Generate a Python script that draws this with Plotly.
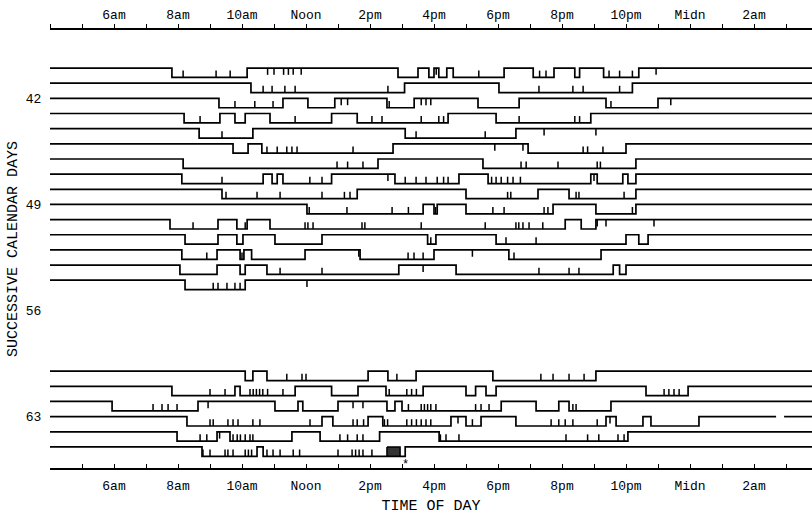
import plotly.graph_objects as go

# ---------------- data (hours of day; >24 = after midnight) ----------------
DAYS = [40, 41, 42, 43, 44, 45, 46, 47, 48, 49, 50, 51, 52, 53, 54, 60, 61, 62, 63, 64, 65]

LOWS_40 = [[7.81, 10.16], [14.875, 15.5], [15.84, 16.0], [16.15, 16.4], [16.6, 18.19],
           [19.1, 19.75], [20.4, 20.55], [21.3, 22.4]]
MARKS_40 = [8.16, 9.19, 9.63, 10.8, 11.0, 11.3, 11.45, 11.6, 11.85, 16.07, 17.4, 19.3, 19.5,
            21.47, 21.8, 22.2, 22.94]
LOWS_41 = [[10.28, 15.08], [18.03, 22.2]]
MARKS_41 = [10.66, 10.94, 11.34, 11.66, 14.56, 19.28, 20.34, 20.66, 21.8]
LOWS_42 = [[9.28, 11.28], [12.06, 12.9], [14.53, 15.38], [17.375, 18.66], [21.375, 23.0]]
MARKS_42 = [9.78, 10.4, 10.97, 13.1, 13.3, 14.6, 15.6, 15.75, 15.9, 21.53, 23.4]
LOWS_43 = [[8.19, 9.31], [9.78, 10.1], [10.875, 12.8], [13.6, 16.44], [17.94, 20.9]]
MARKS_43 = [8.69, 11.66, 14.06, 14.375, 15.6, 16.15, 16.3, 18.66, 20.4, 20.55]
LOWS_44 = [[8.66, 10.34], [15.1, 18.56]]
MARKS_44 = [9.375, 15.44, 17.6, 19.44, 21.06]
LOWS_45 = [[9.72, 10.19], [10.62, 14.72], [18.94, 22.0]]
MARKS_45 = [10.78, 11.1, 11.4, 11.56, 11.72, 13.47, 17.9, 18.78, 20.66, 20.8, 21.28]
LOWS_46 = [[8.16, 14.25], [17.53, 22.31]]
MARKS_46 = [12.97, 13.3, 13.78, 18.72, 18.88, 19.875, 21.1, 21.2]
LOWS_47 = [[8.12, 10.66], [10.94, 11.1], [11.28, 12.8], [14.78, 16.78], [17.69, 20.9],
           [21.1, 21.9], [22.06, 22.31]]
MARKS_47 = [9.375, 12.12, 12.5, 14.56, 15.1, 15.44, 15.75, 16.1, 16.3, 16.44, 17.8, 17.94,
            18.1, 18.3, 18.47, 18.7, 21.0]
LOWS_48 = [[9.375, 13.6], [17.0, 19.25], [20.22, 22.31]]
MARKS_48 = [9.5, 10.47, 11.19, 12.5, 13.2, 13.375, 18.3, 18.4, 20.44, 20.53, 21.94]
LOWS_49 = [[12.03, 15.66], [16.0, 16.1], [17.0, 19.72], [21.06, 22.31]]
MARKS_49 = [12.1, 13.28, 14.69, 15.2, 16.05, 17.84, 18.19, 19.44, 19.56, 22.2]
LOWS_50 = [[7.75, 9.25], [9.84, 10.16], [10.875, 20.1], [20.6, 21.06]]
MARKS_50 = [8.47, 10.1, 11.97, 12.06, 12.22, 13.75, 13.84, 15.6, 17.6, 18.56, 18.65, 18.78,
            18.97, 19.4, 21.1, 21.375, 22.875]
LOWS_51 = [[8.22, 9.25], [9.84, 10.03], [11.03, 12.5], [15.8, 16.06], [17.94, 22.0],
           [22.4, 22.69]]
MARKS_51 = [15.9, 18.25, 19.19]
LOWS_52 = [[8.12, 9.22], [9.94, 10.06], [10.3, 11.97], [13.69, 16.0], [18.34, 21.22]]
MARKS_52 = [8.9, 10.0, 13.65, 15.19, 15.375, 15.66, 17.2, 18.5]
LOWS_53 = [[8.06, 9.22], [9.94, 10.1], [10.78, 14.9], [16.69, 21.6], [21.8, 22.0]]
MARKS_53 = [11.19, 12.5, 15.66, 19.28, 20.22, 20.53]
LOWS_54 = [[8.22, 10.1]]
MARKS_54 = [9.1, 9.25, 9.53, 9.78, 9.94, 12.03]
LOWS_60 = [[10.1, 10.34], [10.78, 13.94], [14.56, 15.44], [17.84, 21.06]]
MARKS_60 = [11.4, 11.875, 12.0, 14.84, 19.34, 19.72, 20.22, 20.69]
LOWS_61 = [[7.81, 9.78], [9.94, 11.66], [12.8, 13.625], [14.5, 15.66], [17.0, 17.3],
           [17.625, 17.94], [22.625, 23.94]]
MARKS_61 = [9.0, 9.47, 10.25, 10.35, 10.45, 10.55, 10.65, 10.8, 11.28, 14.6, 15.15, 15.3,
            15.45, 23.19, 23.34, 23.5, 23.66]
LOWS_62 = [[5.94, 8.625], [11.03, 11.75], [11.9, 13.0], [14.53, 14.78], [15.0, 18.1],
           [19.19, 19.9], [20.22, 21.53]]
MARKS_62 = [7.22, 7.5, 7.69, 7.97, 8.94, 13.47, 13.78, 15.2, 15.6, 15.7, 15.8, 15.9, 16.06,
            17.3, 17.47, 17.72, 20.34, 20.44]
LOWS_63 = [[8.28, 12.5], [12.84, 13.94], [14.4, 16.53], [17.0, 17.47], [18.56, 21.375],
           [21.69, 22.53], [22.78, 24.28]]
MARKS_63 = [9.0, 9.1, 9.56, 9.72, 9.875, 10.34, 10.56, 12.125, 13.47, 13.6, 13.8, 14.45,
            14.55, 15.15, 15.3, 15.45, 15.6, 15.75, 15.9, 16.75, 17.2, 19.66, 19.9, 20.1,
            20.34, 21.1, 21.5]
GAPS_63 = [[26.69, 26.94]]
LOWS_64 = [[7.97, 9.22], [9.625, 11.56], [12.44, 14.3], [16.16, 22.06]]
MARKS_64 = [8.69, 8.9, 9.3, 9.72, 9.85, 9.95, 10.1, 10.25, 10.34, 13.06, 13.3, 13.6, 13.78,
            16.2, 16.375, 16.78, 20.125, 20.8, 21.15, 21.75, 21.94]
LOWS_65 = [[8.75, 10.47], [10.66, 15.1]]
MARKS_65 = [8.78, 9.0, 9.47, 9.56, 9.72, 10.1, 10.2, 10.3, 10.78, 10.97, 11.19, 11.6, 11.8,
            13.0, 13.44, 13.55, 13.66, 13.78, 14.06]
BOX_65 = [14.53, 14.94]
ASTERISK_65 = 15.1

TICK_HOURS = list(range(4, 28))
LABEL_HOURS = [6, 8, 10, 12, 14, 16, 18, 20, 22, 24, 26]
LABEL_TEXT = ['6am', '8am', '10am', 'Noon', '2pm', '4pm', '6pm', '8pm', '10pm', 'Midn', '2am']
DAY_TICKS = [42, 49, 56, 63]

# ---------------- styling constants ----------------
XMIN, XMAX = 4.0, 4.0 + 762 / 32.0
YTOP, YBOT = 37.49, 66.39
DEPTH = 0.62      # step depth in day units
TICKH = 0.45      # event tick height
FONT = "Liberation Mono, DejaVu Sans Mono, monospace"

lows_by_day = {d: globals()["LOWS_%d" % d] for d in DAYS}
marks_by_day = {d: globals()["MARKS_%d" % d] for d in DAYS}
gaps_by_day = {63: GAPS_63}

fig = go.Figure()

line_x, line_y = [], []
mark_x, mark_y = [], []
for d in DAYS:
    xs, ys = [XMIN], [d]
    for a, b in lows_by_day[d]:
        xs += [a, a, b, b]
        ys += [d, d + DEPTH, d + DEPTH, d]
    xs.append(XMAX)
    ys.append(d)
    for g0, g1 in gaps_by_day.get(d, []):
        for i in range(len(xs) - 1):
            if xs[i] is not None and xs[i] <= g0 < xs[i + 1] and ys[i] == d and ys[i + 1] == d:
                xs[i + 1:i + 1] = [g0, None, g1]
                ys[i + 1:i + 1] = [d, None, d]
                break
    line_x += xs + [None]
    line_y += ys + [None]
    for t in marks_by_day[d]:
        low = any(a <= t <= b for a, b in lows_by_day[d])
        if low:
            y0, y1 = d + DEPTH, d + DEPTH - TICKH
        else:
            y0, y1 = d, d + TICKH
        mark_x += [t, t, None]
        mark_y += [y0, y1, None]

fig.add_trace(go.Scatter(x=line_x, y=line_y, mode="lines",
                         line=dict(color="black", width=1.7), hoverinfo="skip",
                         showlegend=False))
fig.add_trace(go.Scatter(x=mark_x, y=mark_y, mode="lines",
                         line=dict(color="black", width=1.5), hoverinfo="skip",
                         showlegend=False))
b0, b1 = BOX_65
fig.add_trace(go.Scatter(x=[b0, b1, b1, b0, b0],
                         y=[65, 65, 65 + DEPTH, 65 + DEPTH, 65],
                         mode="lines", fill="toself", fillcolor="#333333",
                         line=dict(color="black", width=1.5), hoverinfo="skip",
                         showlegend=False))
# dummy trace to activate the top axis
fig.add_trace(go.Scatter(x=[XMIN], y=[DAYS[0]], xaxis="x2", mode="markers",
                         marker=dict(opacity=0), hoverinfo="skip", showlegend=False))

fig.add_annotation(x=ASTERISK_65, y=65 + DEPTH + 0.6, text="*", showarrow=False,
                   font=dict(family=FONT, size=12, color="black"))

ticktext = [LABEL_TEXT[LABEL_HOURS.index(h)] if h in LABEL_HOURS else "" for h in TICK_HOURS]

axis_common = dict(range=[XMIN, XMAX], tickmode="array", tickvals=TICK_HOURS,
                   ticktext=ticktext, showline=True, linecolor="black", linewidth=1.5,
                   tickcolor="black", ticklen=4, tickwidth=1.2, showgrid=False,
                   zeroline=False, tickfont=dict(family=FONT, size=13, color="black"))

fig.update_layout(
    width=812, height=516, autosize=False,
    margin=dict(l=50, r=0, t=30, b=48),
    paper_bgcolor="white", plot_bgcolor="white",
    xaxis=dict(**axis_common, ticks="inside", side="bottom", anchor="y",
               ticklabelstandoff=5,
               title=dict(text="TIME OF DAY", standoff=6,
                          font=dict(family=FONT, size=15, color="black"))),
    xaxis2=dict(**axis_common, ticks="outside", side="top", overlaying="x",
                matches="x", anchor="y"),
    yaxis=dict(range=[YBOT, YTOP], tickmode="array", tickvals=DAY_TICKS,
               ticktext=[str(v) for v in DAY_TICKS], ticks="outside", ticklen=5,
               tickcolor="rgba(0,0,0,0)", showline=False, showgrid=False, zeroline=False,
               tickfont=dict(family=FONT, size=13, color="black"),
               title=dict(text="SUCCESSIVE CALENDAR DAYS", standoff=4,
                          font=dict(family=FONT, size=15, color="black"))),
)

fig.write_html("out.html")
